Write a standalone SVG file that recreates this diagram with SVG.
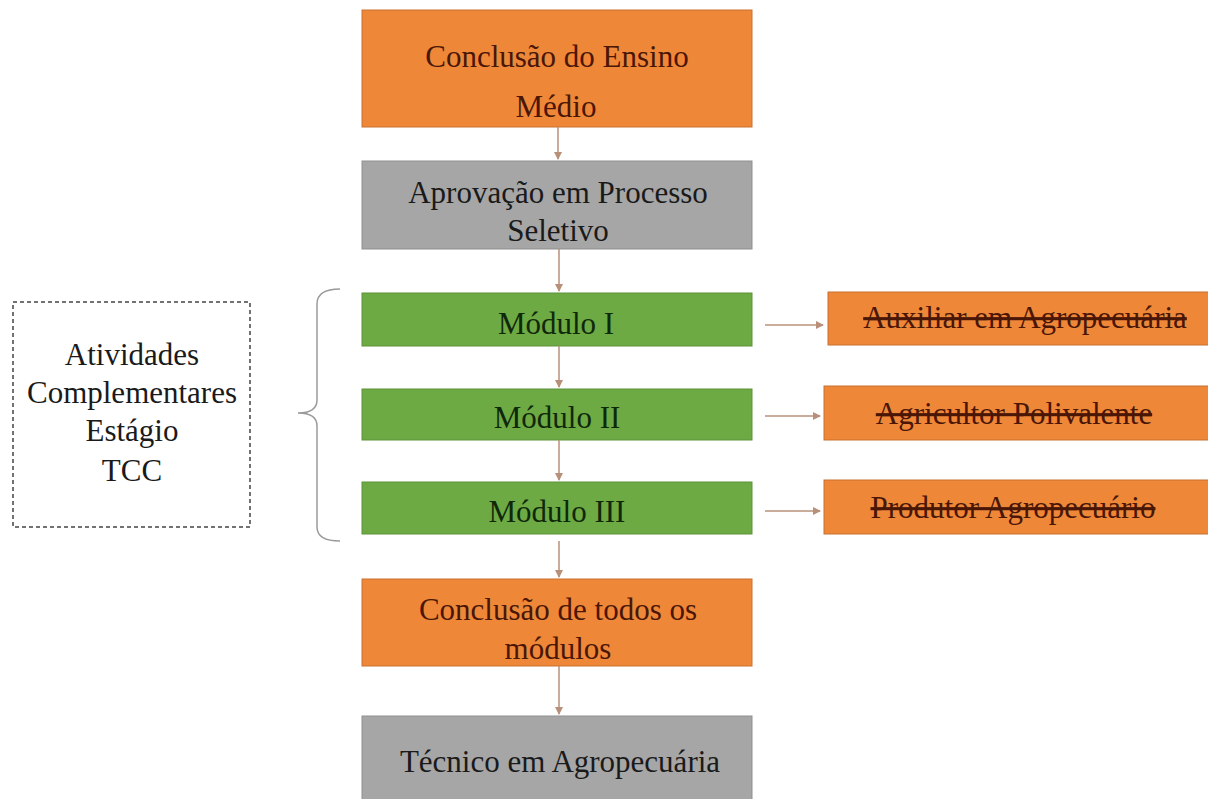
<svg xmlns="http://www.w3.org/2000/svg" width="1208" height="799" viewBox="0 0 1208 799">
<defs>
<marker id="ah" markerWidth="8" markerHeight="8" refX="7" refY="4" orient="auto" markerUnits="userSpaceOnUse">
<path d="M0,0 L8,4 L0,8 z" fill="#b8907a"/>
</marker>
<style>
.or{fill:#EF8739;stroke:#c9702e;stroke-width:1}
.gr{fill:#A6A6A6;stroke:#8f8f8f;stroke-width:1}
.gn{fill:#6DAA44;stroke:#5d9239;stroke-width:1}
text{font-family:'Liberation Serif','Times New Roman',Times,serif;text-anchor:middle;font-size:31px}
.to{fill:#4a1606}
.tg{fill:#1a1a1a}
.tn{fill:#10280a}
.st{text-decoration:line-through;fill:#4a1606}
.c{stroke:#b8907a;stroke-width:1.5;fill:none}
</style>
</defs>
<rect width="1208" height="799" fill="#ffffff"/>
<g id="n1"><rect class="or" x="362" y="10" width="390" height="117"/>
<text class="to" x="557" y="67">Conclusão do Ensino</text>
<text class="to" x="556" y="117">Médio</text></g>
<g id="n2"><rect class="gr" x="362" y="161" width="390" height="88"/>
<text class="tg" x="558" y="203">Aprovação em Processo</text>
<text class="tg" x="558" y="241">Seletivo</text></g>
<g id="n3"><rect class="gn" x="362" y="293" width="390" height="53"/>
<text class="tn" x="556" y="334">Módulo I</text></g>
<g id="n4"><rect class="gn" x="362" y="389" width="390" height="51"/>
<text class="tn" x="557" y="428">Módulo II</text></g>
<g id="n5"><rect class="gn" x="362" y="482" width="390" height="52"/>
<text class="tn" x="557" y="522">Módulo III</text></g>
<g id="n6"><rect class="or" x="362" y="579" width="390" height="87"/>
<text class="to" x="558" y="620">Conclusão de todos os</text>
<text class="to" x="558" y="659">módulos</text></g>
<g id="n7"><rect class="gr" x="362" y="716" width="390" height="90"/>
<text class="tg" x="560" y="772">Técnico em Agropecuária</text></g>
<g id="r1"><rect class="or" x="828" y="292" width="385" height="53"/>
<text class="st" x="1025" y="328" font-size="30">Auxiliar em Agropecuária</text></g>
<g id="r2"><rect class="or" x="824" y="386" width="389" height="54"/>
<text class="st" x="1014" y="424">Agricultor Polivalente</text></g>
<g id="r3"><rect class="or" x="824" y="480" width="389" height="54"/>
<text class="st" x="1013" y="518">Produtor Agropecuário</text></g>
<g id="side"><rect x="13" y="302" width="237" height="225" fill="none" stroke="#444" stroke-width="1.5" stroke-dasharray="4,3"/>
<text class="tg" x="132" y="365">Atividades</text>
<text class="tg" x="132" y="403">Complementares</text>
<text class="tg" x="132" y="441">Estágio</text>
<text class="tg" x="132" y="481">TCC</text></g>
<g id="connectors">
<line class="c" x1="558" y1="127" x2="558" y2="159" marker-end="url(#ah)"/>
<line class="c" x1="559" y1="249" x2="559" y2="291" marker-end="url(#ah)"/>
<line class="c" x1="559" y1="346" x2="559" y2="387" marker-end="url(#ah)"/>
<line class="c" x1="559" y1="440" x2="559" y2="480" marker-end="url(#ah)"/>
<line class="c" x1="559" y1="541" x2="559" y2="577" marker-end="url(#ah)"/>
<line class="c" x1="559" y1="666" x2="559" y2="714" marker-end="url(#ah)"/>
<line class="c" x1="765" y1="325" x2="823" y2="325" marker-end="url(#ah)"/>
<line class="c" x1="765" y1="416" x2="820" y2="416" marker-end="url(#ah)"/>
<line class="c" x1="765" y1="511" x2="820" y2="511" marker-end="url(#ah)"/>
<path d="M340,289 Q317,289 317,304 L317,400 Q317,413 298,413 Q317,413 317,426 L317,527 Q317,541 340,541" fill="none" stroke="#9a9a9a" stroke-width="1.5"/>
</g>
</svg>
